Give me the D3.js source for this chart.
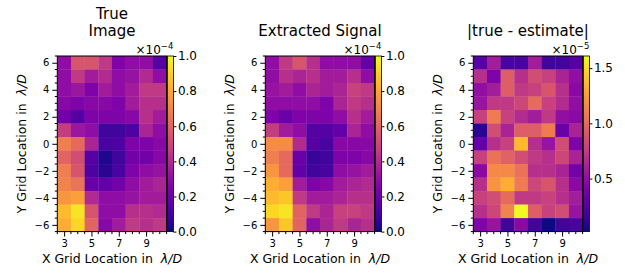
<!DOCTYPE html>
<html>
<head>
<meta charset="utf-8">
<script src="https://cdn.jsdelivr.net/npm/d3@7"></script>
<style>
    body { margin: 0; background: #fff; }
    svg { display: block; font-family: 'DejaVu Sans', sans-serif; }
    .tick line { stroke: #000; }
    .tick text { fill: #000; }
</style>
</head>
<body>
<svg></svg>
<script>
// grid coordinates (lambda/D)
const xCells = [3, 4, 5, 6, 7, 8, 9, 10];
const yCells = [6, 5, 4, 3, 2, 1, 0, -1, -2, -3, -4, -5, -6];

const xTicks = [3, 5, 7, 9];
const yTicks = [-6, -4, -2, 0, 2, 4, 6];
const cbTicksA = [0, 0.2, 0.4, 0.6, 0.8, 1.0];
const cbTicksB = [0.5, 1.0, 1.5];

// true image, x1e-4 (rows top y=6 -> bottom y=-6)
const trueImage = [
    [0.30, 0.55, 0.55, 0.45, 0.25, 0.30, 0.30, 0.15],
    [0.30, 0.45, 0.35, 0.40, 0.30, 0.32, 0.40, 0.30],
    [0.30, 0.33, 0.25, 0.35, 0.30, 0.35, 0.45, 0.45],
    [0.28, 0.25, 0.28, 0.28, 0.25, 0.35, 0.42, 0.42],
    [0.22, 0.15, 0.25, 0.25, 0.25, 0.28, 0.42, 0.35],
    [0.47, 0.33, 0.30, 0.10, 0.10, 0.13, 0.38, 0.30],
    [0.68, 0.62, 0.38, 0.12, 0.13, 0.25, 0.25, 0.28],
    [0.60, 0.52, 0.15, 0.03, 0.10, 0.22, 0.22, 0.28],
    [0.68, 0.55, 0.13, 0.05, 0.12, 0.25, 0.30, 0.32],
    [0.70, 0.65, 0.20, 0.18, 0.22, 0.30, 0.35, 0.38],
    [0.75, 0.78, 0.40, 0.30, 0.30, 0.32, 0.35, 0.35],
    [0.85, 0.95, 0.55, 0.30, 0.30, 0.42, 0.42, 0.40],
    [0.82, 0.92, 0.60, 0.28, 0.35, 0.45, 0.42, 0.45]
];

// extracted signal, x1e-4
const extracted = [
    [0.30, 0.45, 0.55, 0.42, 0.30, 0.30, 0.30, 0.18],
    [0.30, 0.42, 0.38, 0.42, 0.35, 0.35, 0.42, 0.30],
    [0.32, 0.35, 0.30, 0.38, 0.35, 0.38, 0.48, 0.45],
    [0.30, 0.30, 0.30, 0.30, 0.25, 0.38, 0.45, 0.42],
    [0.25, 0.20, 0.25, 0.25, 0.25, 0.30, 0.42, 0.35],
    [0.47, 0.35, 0.30, 0.15, 0.15, 0.18, 0.38, 0.30],
    [0.72, 0.72, 0.40, 0.15, 0.12, 0.28, 0.28, 0.28],
    [0.68, 0.62, 0.20, 0.08, 0.10, 0.25, 0.25, 0.28],
    [0.75, 0.62, 0.18, 0.10, 0.12, 0.30, 0.32, 0.35],
    [0.82, 0.78, 0.35, 0.25, 0.28, 0.35, 0.38, 0.40],
    [0.85, 0.88, 0.45, 0.35, 0.35, 0.38, 0.42, 0.42],
    [0.92, 0.95, 0.60, 0.45, 0.38, 0.48, 0.48, 0.45],
    [0.75, 0.88, 0.60, 0.30, 0.38, 0.45, 0.38, 0.42]
];

// |true - estimate|, x1e-5
const residual = [
    [0.26, 0.58, 0.21, 0.21, 0.58, 0.18, 0.18, 0.26],
    [0.69, 0.42, 0.94, 0.69, 0.85, 0.78, 0.62, 0.50],
    [0.50, 0.58, 0.94, 0.74, 0.78, 0.89, 0.69, 0.47],
    [0.53, 0.74, 0.74, 0.82, 1.01, 0.78, 0.66, 0.50],
    [0.78, 1.10, 0.78, 0.66, 0.58, 0.74, 0.50, 0.47],
    [0.10, 0.85, 0.62, 0.94, 0.94, 1.10, 0.34, 0.62],
    [0.31, 0.69, 0.78, 1.37, 0.69, 0.53, 0.85, 0.42],
    [0.78, 1.05, 0.97, 0.85, 0.74, 0.69, 0.82, 0.62],
    [0.47, 1.16, 1.16, 1.05, 0.69, 0.69, 0.62, 0.37],
    [0.69, 1.21, 1.32, 1.10, 0.82, 0.89, 0.69, 0.47],
    [0.78, 0.85, 1.01, 0.74, 0.74, 0.78, 0.69, 0.58],
    [0.69, 0.82, 1.13, 1.61, 0.94, 0.78, 0.85, 0.53],
    [0.42, 0.53, 0.18, 0.47, 0.18, 0.02, 0.18, 0.21]
];

const panels = [
    {title: ['True', 'Image'], values: trueImage, domain: [0, 1], ticks: cbTicksA, exp: '−4'},
    {title: ['Extracted Signal'], values: extracted, domain: [0, 1], ticks: cbTicksA, exp: '−4'},
    {title: ['|true - estimate|'], values: residual, domain: d3.extent(residual.flat()), ticks: cbTicksB, exp: '−5'}
];

const SVGsize = {w: 625, h: 274};
const box = {l: 57.3, t: 56, w: 109.3, h: 175.6, step: 208};
const cbW = 6;

const svg = d3.select('svg')
    .attr('width', SVGsize.w)
    .attr('height', SVGsize.h);

const scaleX = d3.scaleLinear().domain([2.5, 10.5]).range([0, box.w]);
const scaleY = d3.scaleLinear().domain([6.5, -6.5]).range([0, box.h]);

// gradient for colorbars
const grad = svg.append('defs').append('linearGradient')
    .attr('id', 'plasma')
    .attr('x1', 0).attr('y1', 1).attr('x2', 0).attr('y2', 0);
grad.selectAll('stop')
    .data(d3.range(0, 1.0001, 0.05))
    .join('stop')
    .attr('offset', d => d)
    .attr('stop-color', d => d3.interpolatePlasma(d));

const minorX = d3.range(2.5, 10.51, 0.5).filter(v => !xTicks.includes(v));
const minorY = d3.range(-6.5, 6.51, 0.5).filter(v => !yTicks.includes(v));

panels.forEach(function(p, i) {
    const g = svg.append('g')
        .attr('transform', `translate(${box.l + i * box.step}, ${box.t})`);

    const color = d3.scaleSequential(d3.interpolatePlasma).domain(p.domain);

    // cells
    const cells = [];
    p.values.forEach((row, r) => row.forEach((v, c) => cells.push({x: xCells[c], y: yCells[r], v: v})));
    g.selectAll('rect.cell')
        .data(cells)
        .join('rect')
        .attr('class', 'cell')
        .attr('x', d => scaleX(d.x - 0.5))
        .attr('y', d => scaleY(d.y + 0.5))
        .attr('width', d => scaleX(d.x + 0.5) - scaleX(d.x - 0.5) + 0.3)
        .attr('height', d => scaleY(d.y - 0.5) - scaleY(d.y + 0.5) + 0.3)
        .attr('fill', d => color(d.v));

    // axes
    const axX = g.append('g')
        .attr('transform', `translate(0, ${box.h})`)
        .call(d3.axisBottom(scaleX).tickValues(xTicks).tickSize(5).tickPadding(3));
    const axY = g.append('g')
        .call(d3.axisLeft(scaleY).tickValues(yTicks).tickSize(5).tickPadding(3));
    [axX, axY].forEach(a => {
        a.select('.domain').remove();
        a.selectAll('text').attr('font-size', 10).attr('font-family', 'DejaVu Sans');
    });

    g.selectAll('line.minx')
        .data(minorX)
        .join('line')
        .attr('class', 'minx')
        .attr('x1', d => scaleX(d)).attr('x2', d => scaleX(d))
        .attr('y1', box.h).attr('y2', box.h + 2.5)
        .attr('stroke', '#000');
    g.selectAll('line.miny')
        .data(minorY)
        .join('line')
        .attr('class', 'miny')
        .attr('y1', d => scaleY(d)).attr('y2', d => scaleY(d))
        .attr('x1', 0).attr('x2', -2.5)
        .attr('stroke', '#000');

    g.append('rect')
        .attr('width', box.w).attr('height', box.h)
        .attr('fill', 'none').attr('stroke', '#000').attr('stroke-width', 1);

    // colorbar
    const cb = g.append('g').attr('transform', `translate(${box.w + 0.8}, 0)`);
    const scaleC = d3.scaleLinear().domain(p.domain).range([box.h, 0]);
    cb.append('rect')
        .attr('width', cbW).attr('height', box.h)
        .attr('fill', 'url(#plasma)')
        .attr('stroke', '#000').attr('stroke-width', 0.8);
    const axC = cb.append('g')
        .attr('transform', `translate(${cbW}, 0)`)
        .call(d3.axisRight(scaleC).tickValues(p.ticks).tickFormat(d3.format('.1f')).tickSize(3).tickPadding(1.5));
    axC.select('.domain').remove();
    axC.selectAll('text').attr('font-size', 12).attr('font-family', 'DejaVu Sans');

    // offset text
    const off = cb.append('text')
        .attr('x', cbW)
        .attr('y', -2)
        .attr('text-anchor', 'end')
        .attr('font-size', 12);
    off.append('tspan').text('×10');
    off.append('tspan').attr('dy', -5).attr('font-size', 8.5).text(p.exp);

    // title
    const t = g.append('text')
        .attr('x', box.w / 2)
        .attr('text-anchor', 'middle')
        .attr('font-size', 15);
    p.title.forEach((line, k) => {
        t.append('tspan')
            .attr('x', box.w / 2)
            .attr('y', -20 - (p.title.length - 1 - k) * 17.5)
            .text(line);
    });

    // axis labels
    const xl = g.append('text')
        .attr('x', box.w / 2)
        .attr('y', box.h + 31)
        .attr('text-anchor', 'middle')
        .attr('font-size', 12.5);
    xl.append('tspan').text('X Grid Location in\u00a0\u00a0');
    xl.append('tspan').attr('font-style', 'italic').text('λ/D');

    const yl = g.append('text')
        .attr('transform', `translate(-31, ${box.h / 2}) rotate(-90)`)
        .attr('text-anchor', 'middle')
        .attr('font-size', 12.5);
    yl.append('tspan').text('Y Grid Location in\u00a0\u00a0');
    yl.append('tspan').attr('font-style', 'italic').text('λ/D');
});
</script>
</body>
</html>
